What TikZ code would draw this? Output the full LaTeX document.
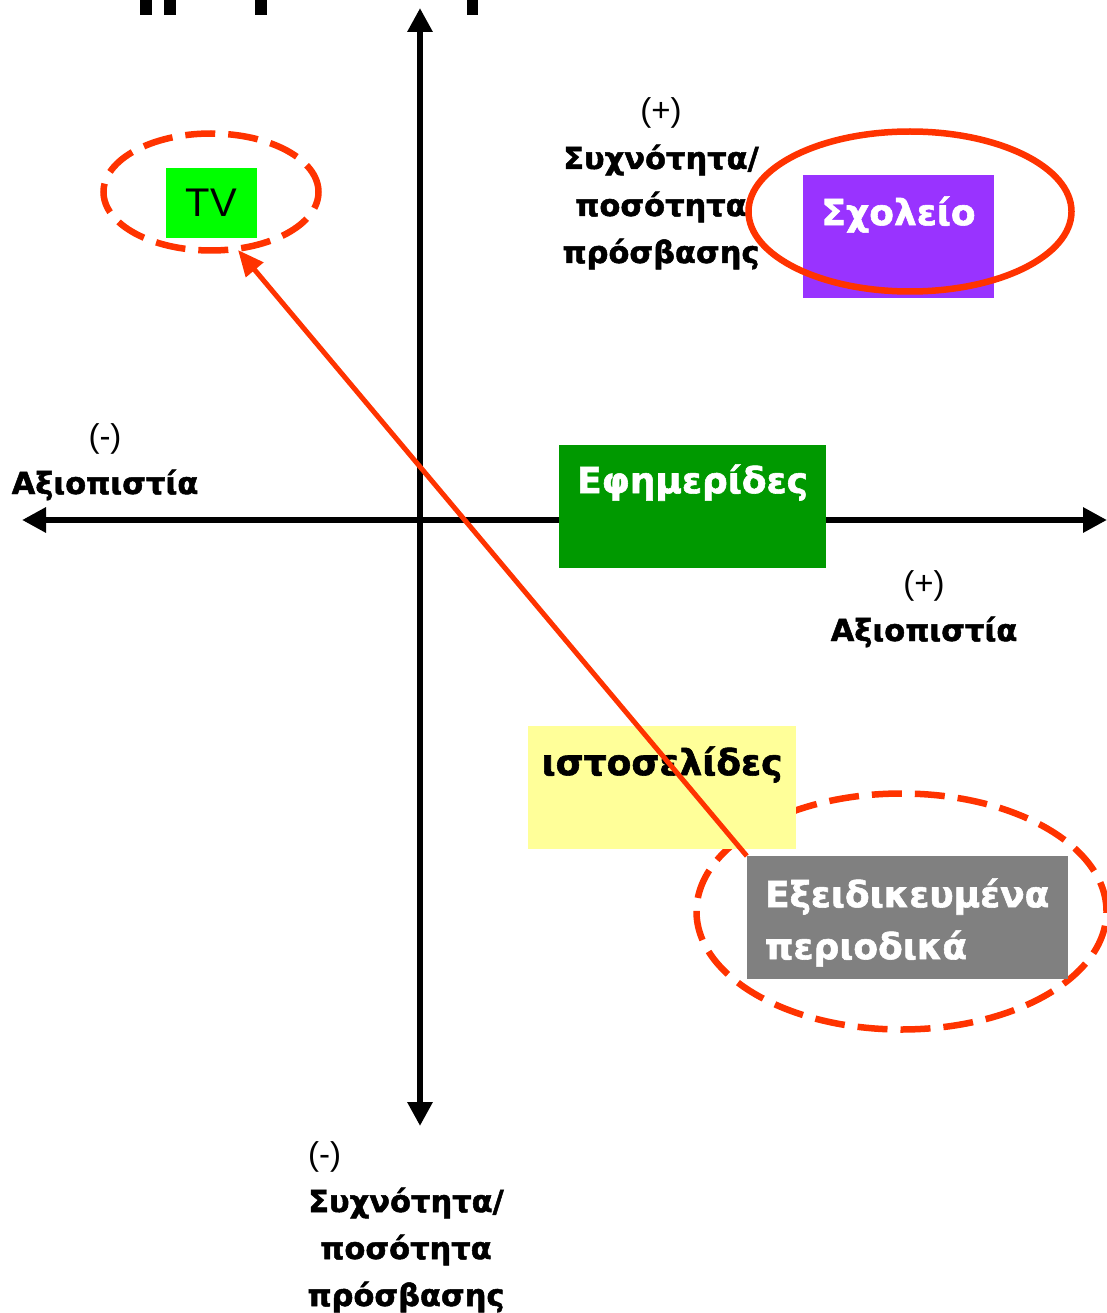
\documentclass[tikz,border=0pt]{standalone}
\usepackage{fontspec}
\setmainfont{DejaVu Sans}[BoldFeatures={FakeBold=1.6}]
\newfontfamily\tvfont{Liberation Sans}
\usetikzlibrary{arrows.meta,shapes.geometric}
\definecolor{ringred}{HTML}{FF3300}
\definecolor{tvgreen}{HTML}{00FF00}
\definecolor{newsgreen}{HTML}{009900}
\definecolor{schoolpurple}{HTML}{9933FF}
\definecolor{webyellow}{HTML}{FFFF99}
\definecolor{maggray}{HTML}{808080}
\newcommand{\signtxt}[1]{{\tvfont\mdseries\fontsize{33}{47}\selectfont #1}}
\newcommand{\ctrlines}[1]{\parbox[t]{330pt}{\centering #1}}
\begin{document}
\begin{tikzpicture}[x=1pt,y=-1pt,
  axis/.style={line width=6.5pt,{Triangle[length=24pt,width=24pt]}-{Triangle[length=24pt,width=24pt]}},
  box/.style={rectangle,inner sep=0pt,draw=none},
  boxtext/.style={font=\fontsize{36}{52}\selectfont\bfseries},
  axislabel/.style={font=\fontsize{30.5}{47}\selectfont\bfseries,inner sep=0pt,anchor=base},
  ring/.style={ellipse,draw=ringred,line width=6.5pt,inner sep=0pt},
  dashring/.style={ring,dash pattern=on 30pt off 13pt},
  link/.style={draw=ringred,line width=5pt,-{Triangle[length=26pt,width=22pt]}}
]
\useasboundingbox (0,0) rectangle (1107,1313);
% cut-off title fragments
\fill (140,0) rectangle (152,15);
\fill (164,0) rectangle (176,15);
\fill (255,0) rectangle (267,15);
\fill (467,0) rectangle (478,15);
% axes
\coordinate (xl) at (22,520);
\coordinate (xr) at (1107,520);
\coordinate (yt) at (420,8);
\coordinate (yb) at (420,1126);
\draw[axis] (xl) -- (xr);
\draw[axis] (yt) -- (yb);
% dashed ring behind the magazines box
\node[dashring,minimum width=410pt,minimum height=236pt] (magring) at (901.5,911.5) {};
% boxes
\node[box,fill=webyellow,minimum width=268pt,text height=49pt,text depth=74pt,boxtext,text=black,anchor=north] (web) at (662,726) {ιστοσελίδες};
\node[box,fill=maggray,minimum width=321pt,text height=51pt,text depth=72pt,boxtext,text=white,anchor=north] (mag) at (907.5,856)
  {\parbox[t]{285pt}{\raggedright Εξειδικευμένα\\περιοδικά}};
\node[box,fill=newsgreen,minimum width=267pt,text height=48pt,text depth=75pt,boxtext,text=white,anchor=north] (news) at (692.5,445) {Εφημερίδες};
\node[box,fill=schoolpurple,minimum width=191pt,text height=50pt,text depth=73pt,boxtext,text=white,anchor=north] (school) at (898.5,175) {Σχολείο};
\node[box,fill=tvgreen,minimum width=91pt,minimum height=70pt,font=\tvfont\fontsize{40}{40}\selectfont] (tv) at (211.5,203) {TV};
% axis labels
\node[axislabel] (ytoplab) at (661,122) {\ctrlines{\signtxt{(+)}\\Συχνότητα/\\ποσότητα\\πρόσβασης}};
\node[axislabel] (xleftlab) at (105,447) {\ctrlines{\signtxt{(-)}\\Αξιοπιστία}};
\node[axislabel] (xrightlab) at (924,594) {\ctrlines{\signtxt{(+)}\\Αξιοπιστία}};
\node[axislabel] (ybotlab) at (406,1165) {\ctrlines{\leavevmode\rlap{\signtxt{(-)}}\phantom{Συχνότητα/}\\Συχνότητα/\\ποσότητα\\πρόσβασης}};
% rings
\node[dashring,minimum width=215pt,minimum height=117pt] (tvring) at (211,192) {};
\node[ring,minimum width=323pt,minimum height=160pt] (schoolring) at (910,211.5) {};
% link
\coordinate (tvtip) at (238,250);
\draw[link] (mag.north west) -- (tvtip);
\end{tikzpicture}
\end{document}
